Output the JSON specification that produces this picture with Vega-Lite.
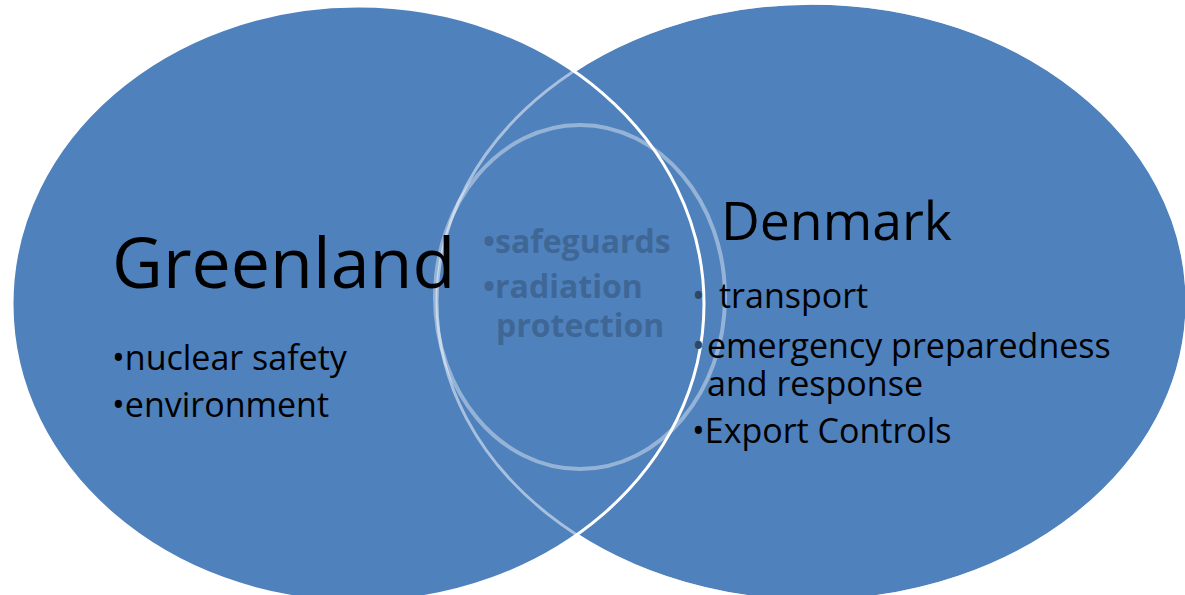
{
  "$schema": "https://vega.github.io/schema/vega-lite/v6.json",
  "width": 1185,
  "height": 595,
  "autosize": {"type": "none"},
  "padding": 0,
  "background": "white",
  "config": {"view": {"stroke": null}},
  "datasets": {
    "sets": [
      {"set": "Greenland", "cx": 358, "cy": 304},
      {"set": "Denmark", "cx": 812, "cy": 302},
      {"set": "Shared", "cx": 580, "cy": 297}
    ],
    "labels": [
      {"text": "Greenland", "x": 112, "y": 288, "role": "title"},
      {"text": "Denmark", "x": 721, "y": 240, "role": "title2"},
      {"text": "•nuclear safety", "x": 112, "y": 370, "role": "item"},
      {"text": "•environment", "x": 112, "y": 417, "role": "item"},
      {"text": "•safeguards", "x": 483, "y": 253, "role": "shared"},
      {"text": "•radiation", "x": 483, "y": 298, "role": "shared"},
      {"text": "protection", "x": 496, "y": 337, "role": "shared"},
      {"text": "•", "x": 692, "y": 308, "role": "dimbullet"},
      {"text": "transport", "x": 719, "y": 308, "role": "item"},
      {"text": "•", "x": 692, "y": 358, "role": "dimbullet"},
      {"text": "emergency preparedness\nand response", "x": 707, "y": 358, "role": "item"},
      {"text": "•Export Controls", "x": 692, "y": 443, "role": "item"}
    ]
  },
  "encoding": {
    "x": {"type": "quantitative", "scale": {"domain": [0, 1185], "nice": false, "zero": false}, "axis": null},
    "y": {"type": "quantitative", "scale": {"domain": [0, 595], "nice": false, "zero": false, "reverse": true}, "axis": null}
  },
  "layer": [
    {
      "data": {"name": "sets"},
      "transform": [{"filter": "datum.set === 'Denmark'"}],
      "mark": {"type": "point", "filled": true, "fill": "#4F81BD", "stroke": "white", "strokeWidth": 3, "opacity": 1, "size": 562500,
        "shape": "M-1,0C-1,-0.4402,-0.5523,-0.797,0,-0.797C0.5523,-0.797,1,-0.4402,1,0C1,0.4402,0.5523,0.797,0,0.797C-0.5523,0.797,-1,0.4402,-1,0Z"},
      "encoding": {"x": {"field": "cx", "type": "quantitative"}, "y": {"field": "cy", "type": "quantitative"}}
    },
    {
      "data": {"name": "sets"},
      "transform": [{"filter": "datum.set === 'Greenland'"}],
      "mark": {"type": "point", "filled": true, "fill": "#4F81BD", "stroke": "white", "strokeWidth": 3, "opacity": 1, "size": 478864,
        "shape": "M-1,0C-1,-0.4755,-0.5523,-0.861,0,-0.861C0.5523,-0.861,1,-0.4755,1,0C1,0.4755,0.5523,0.861,0,0.861C-0.5523,0.861,-1,0.4755,-1,0Z"},
      "encoding": {"x": {"field": "cx", "type": "quantitative"}, "y": {"field": "cy", "type": "quantitative"}}
    },
    {
      "data": {"name": "sets"},
      "transform": [{"filter": "datum.set === 'Denmark'"}],
      "mark": {"type": "point", "filled": false, "fill": null, "stroke": "white", "strokeOpacity": 0.5, "strokeWidth": 3, "opacity": 1, "size": 562500,
        "shape": "M-1,0C-1,-0.4402,-0.5523,-0.797,0,-0.797C0.5523,-0.797,1,-0.4402,1,0C1,0.4402,0.5523,0.797,0,0.797C-0.5523,0.797,-1,0.4402,-1,0Z"},
      "encoding": {"x": {"field": "cx", "type": "quantitative"}, "y": {"field": "cy", "type": "quantitative"}}
    },
    {
      "data": {"name": "sets"},
      "transform": [{"filter": "datum.set === 'Shared'"}],
      "mark": {"type": "point", "filled": false, "fill": null, "stroke": "white", "strokeOpacity": 0.4, "strokeWidth": 4, "opacity": 1, "size": 118336,
        "shape": "M-0.843,0C-0.843,-0.5523,-0.4656,-1,0,-1C0.4656,-1,0.843,-0.5523,0.843,0C0.843,0.5523,0.4656,1,0,1C-0.4656,1,-0.843,0.5523,-0.843,0Z"},
      "encoding": {"x": {"field": "cx", "type": "quantitative"}, "y": {"field": "cy", "type": "quantitative"}}
    },
    {
      "data": {"name": "labels"},
      "transform": [{"filter": "datum.role === 'title'"}],
      "mark": {"type": "text", "font": "Open Sans", "fontSize": 70, "align": "left", "baseline": "alphabetic", "color": "black"},
      "encoding": {"x": {"field": "x", "type": "quantitative"}, "y": {"field": "y", "type": "quantitative"}, "text": {"field": "text"}}
    },
    {
      "data": {"name": "labels"},
      "transform": [{"filter": "datum.role === 'title2'"}],
      "mark": {"type": "text", "font": "Open Sans", "fontSize": 53.5, "align": "left", "baseline": "alphabetic", "color": "black"},
      "encoding": {"x": {"field": "x", "type": "quantitative"}, "y": {"field": "y", "type": "quantitative"}, "text": {"field": "text"}}
    },
    {
      "data": {"name": "labels"},
      "transform": [{"filter": "datum.role === 'item'"}],
      "mark": {"type": "text", "font": "Open Sans", "fontSize": 34, "align": "left", "baseline": "alphabetic", "color": "black", "lineBreak": "\n", "lineHeight": 38},
      "encoding": {"x": {"field": "x", "type": "quantitative"}, "y": {"field": "y", "type": "quantitative"}, "text": {"field": "text"}}
    },
    {
      "data": {"name": "labels"},
      "transform": [{"filter": "datum.role === 'dimbullet'"}],
      "mark": {"type": "text", "font": "Open Sans", "fontSize": 34, "align": "left", "baseline": "alphabetic", "color": "#2B4868"},
      "encoding": {"x": {"field": "x", "type": "quantitative"}, "y": {"field": "y", "type": "quantitative"}, "text": {"field": "text"}}
    },
    {
      "data": {"name": "labels"},
      "transform": [{"filter": "datum.role === 'shared'"}],
      "mark": {"type": "text", "font": "Open Sans", "fontSize": 32, "fontWeight": "bold", "align": "left", "baseline": "alphabetic", "color": "#3F6795"},
      "encoding": {"x": {"field": "x", "type": "quantitative"}, "y": {"field": "y", "type": "quantitative"}, "text": {"field": "text"}}
    }
  ]
}
